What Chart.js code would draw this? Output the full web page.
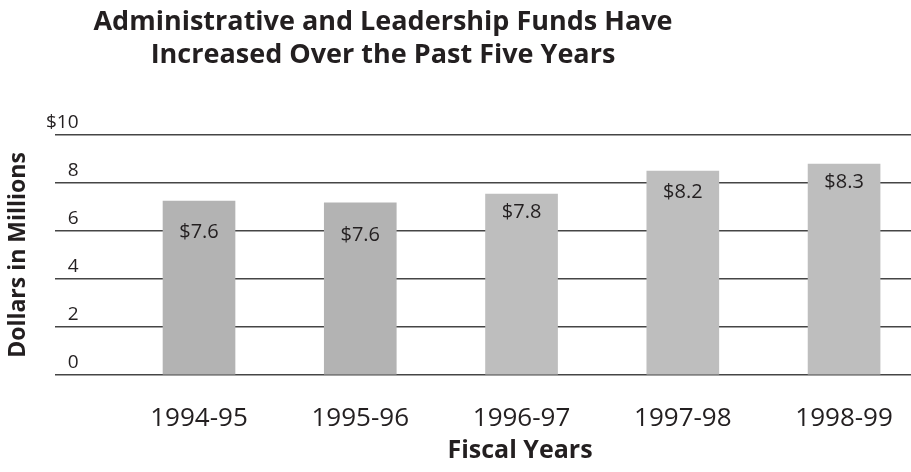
<!DOCTYPE html>
<html>
<head>
<meta charset="utf-8">
<script src="https://cdn.jsdelivr.net/npm/chart.js@4.4.1/dist/chart.umd.min.js"></script>
<style>
  html, body { margin: 0; padding: 0; background: #fff; }
  #wrap { width: 911px; height: 472px; position: relative; }
</style>
</head>
<body>
<div id="wrap"><canvas id="fundsChart"></canvas></div>
<script>
// datos
const fiscalYears = ['1994-95', '1995-96', '1996-97', '1997-98', '1998-99'];
const barHeights = [7.25, 7.17, 7.54, 8.5, 8.79];
const valueLabels = ['$7.6', '$7.6', '$7.8', '$8.2', '$8.3'];
const yTickLabels = ['0', '2', '4', '6', '8', '$10'];
const titleLines = ['Administrative and Leadership Funds Have', 'Increased Over the Past Five Years'];

const ink = '#231f20';
const barColors = ['#b3b3b3', '#b3b3b3', '#bebebe', '#bebebe', '#bebebe'];
const labelDrop = [31, 32, 18, 21, 18];

// títulos y etiquetas de valor
const extraText = {
    id: 'extraText',
    afterDatasetsDraw(chart) {
        const ctx = chart.ctx;
        ctx.save();
        ctx.fillStyle = ink;
        ctx.textAlign = 'center';
        ctx.textBaseline = 'middle';

        ctx.font = '20px "Open Sans"';
        chart.getDatasetMeta(0).data.forEach((bar, i) => {
            ctx.fillText(valueLabels[i], bar.x, bar.y + labelDrop[i]);
        });

        ctx.font = 'bold 27px "Open Sans"';
        titleLines.forEach((line, i) => {
            ctx.fillText(line, 383, 22 + i * 33);
        });

        ctx.font = 'bold 25px "Open Sans"';
        ctx.fillText('Fiscal Years', 520, 451);
        ctx.restore();
    }
};

function renderChart() {
    const ctx = document.getElementById('fundsChart').getContext('2d');

    new Chart(ctx, {
        type: 'bar',
        data: {
            datasets: [{
                data: barHeights.map((v, i) => ({ x: i, y: v })),
                backgroundColor: barColors,
                barThickness: 72,
                borderWidth: 0
            }]
        },
        options: {
            responsive: true,
            maintainAspectRatio: false,
            animation: false,
            layout: { padding: { top: 135, left: 0, right: 0, bottom: 0 } },
            plugins: {
                legend: { display: false },
                tooltip: { enabled: false }
            },
            scales: {
                x: {
                    type: 'linear',
                    offset: false,
                    min: -0.893,
                    max: 4.415,
                    grid: { display: false },
                    border: { display: false },
                    afterBuildTicks: s => { s.ticks = fiscalYears.map((_, i) => ({ value: i })); },
                    afterFit: s => {
                        s.height = 97;
                        s.paddingLeft = 0;
                        s.paddingRight = 0;
                    },
                    ticks: {
                        color: ink,
                        font: { family: 'Open Sans', size: 26 },
                        padding: 20,
                        maxRotation: 0,
                        callback: v => fiscalYears[v]
                    }
                },
                y: {
                    min: 0,
                    max: 10,
                    afterFit: s => { s.width = 55; },
                    border: { display: false },
                    grid: { color: '#454545', lineWidth: 1.5, drawTicks: false },
                    ticks: {
                        stepSize: 2,
                        mirror: true,
                        crossAlign: 'far',
                        padding: -9,
                        labelOffset: -12,
                        color: ink,
                        font: { family: 'Open Sans', size: 19 },
                        callback: (v) => yTickLabels[v / 2]
                    },
                    title: {
                        display: true,
                        text: 'Dollars in Millions',
                        color: ink,
                        font: { family: 'Open Sans', size: 23, weight: 'bold' },
                        padding: 5
                    }
                }
            }
        },
        plugins: [extraText]
    });
}

document.addEventListener('DOMContentLoaded', () => {
    renderChart();
});
</script>
</body>
</html>
